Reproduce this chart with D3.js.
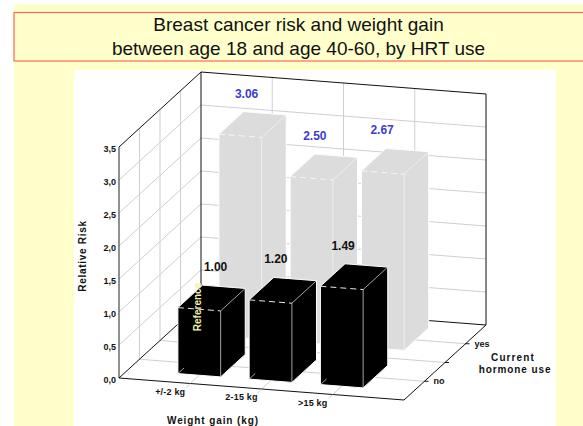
<!DOCTYPE html>
<html><head><meta charset="utf-8">
<style>html,body{margin:0;padding:0;background:#fff}svg{display:block}text{font-family:"Liberation Sans",Arial,sans-serif}</style>
<script src="https://d3js.org/d3.v7.min.js"></script></head><body>
<script>
const titleLines = ["Breast cancer risk and weight gain","between age 18 and age 40-60, by HRT use"];
const weightCats = ["+/-2 kg","2-15 kg",">15 kg"];
const hormoneCats = ["no","yes"];
const riskNo = [1.00,1.20,1.49];
const riskYes = [3.06,2.50,2.67];
const riskTicks = [0,0.5,1,1.5,2,2.5,3,3.5];

const W=583,H=426;
const svg=d3.select("body").append("svg").attr("width",W).attr("height",H);
svg.append("rect").attr("x",14).attr("y",4).attr("width",W-14).attr("height",H-4).attr("fill","#ffffcc");
svg.append("rect").attr("x",74).attr("y",70).attr("width",482).attr("height",H-70).attr("fill","#fff");
svg.append("rect").attr("x",14).attr("y",12.5).attr("width",W).attr("height",48.5).attr("fill","#ffffcc").attr("stroke","#ff6650").attr("stroke-width",1.2);
svg.selectAll("text.title").data(titleLines).join("text").attr("class","title")
  .attr("x",298.5).attr("y",(d,i)=>31+i*23.5).attr("text-anchor","middle").attr("font-size",19).attr("fill","#111").text(d=>d);

// oblique projection through linear scales
const xX=d3.scaleLinear([0,4],[0,285]), xY=d3.scaleLinear([0,4],[0,22]);
const zX=d3.scaleLinear([0,4],[0,82]), zY=d3.scaleLinear([0,4],[0,-75]);
const vY=d3.scaleLinear([0,3.5],[0,-231]);
const P=(x,z,v)=>[119+xX(x)+zX(z),378+xY(x)+zY(z)+vY(v)];
const path=pts=>d3.line()(pts)+"Z";
const seg=(a,b,col,w,extra)=>{const l=svg.append("line").attr("x1",a[0]).attr("y1",a[1]).attr("x2",b[0]).attr("y2",b[1]).attr("stroke",col).attr("stroke-width",w);if(extra)l.attr("stroke-dasharray",extra);return l;};

const grid="#cfcfcf";
riskTicks.slice(1,-1).forEach(v=>{seg(P(0,4,v),P(4,4,v),grid,1);seg(P(0,0,v),P(0,4,v),grid,1);});
[1,2,3].forEach(i=>{
  seg(P(i,4,0),P(i,4,3.5),grid,1);
  seg(P(0,i,0),P(0,i,3.5),grid,1);
  seg(P(i,-0.0,0),P(i,4,0),grid,1);
  seg(P(0,i,0),P(4,i,0),grid,1);
});
// walls and floor frame
seg(P(0,0,0),P(0,0,3.5),"#555",1.3);
seg(P(0,0,3.5),P(0,4,3.5),"#111",1);
seg(P(0,4,3.5),P(4,4,3.5),"#111",1);
seg(P(0,4,0),P(0,4,3.5),"#111",1);
seg(P(4,4,0),P(4,4,3.5),"#111",1);
seg(P(0,4,0),P(4,4,0),"#111",1);
seg(P(0,0,0),P(0,4,0),"#111",1);
seg(P(0,0,0),P(4,0,0),"#111",1);
seg(P(4,0,0),P(4,4,0),"#111",1);

// bars
const halfX=0.3, depth=1.2;
function bar(xc,zc,v,fill,edge){
  const x0=xc-halfX,x1=xc+halfX,z0=zc-depth/2,z1=zc+depth/2;
  const g=svg.append("g");
  g.append("path").attr("d",path([P(x0,z0,0),P(x1,z0,0),P(x1,z1,0),P(x1,z1,v),P(x0,z1,v),P(x0,z0,v)]))
    .attr("fill",fill).attr("stroke","#fff").attr("stroke-width",1);
  const ln=(a,b,dash,w=0.7)=>{const l=g.append("line").attr("x1",a[0]).attr("y1",a[1]).attr("x2",b[0]).attr("y2",b[1]).attr("stroke",edge).attr("stroke-width",w);if(dash)l.attr("stroke-dasharray",dash);};
  ln(P(x1,z0,0),P(x1,z0,v));
  ln(P(x1,z0,v),P(x1,z1,v));
  ln(P(x0,z0,v),P(x1,z0,v),"6 4",1);
  ln(P(x0,z0,0),P(x0,z0+0.3,0));
  ln(P(x0,z0,v),P(x0,z1,v),null,0.3);
  ln(P(x0,z1,v),P(x1,z1,v),null,0.3);
}
const nudgeYes=[-6,-9,-13], nudgeNo=[4,-7,-11];
riskYes.forEach((v,i)=>bar(i+1,3.04,v,"#dcdcdc","#f6f6f6"));
riskNo.forEach((v,i)=>bar(i+1,1.04,v,"#000","#e8e8e8"));
const valLabel=(d,i,z,col,n)=>{const p=P(i+1,z,d);
  svg.append("text").attr("x",p[0]+n[i]).attr("y",p[1]-27).attr("text-anchor","middle")
   .attr("font-size",12).attr("font-weight","bold").attr("fill",col).text(d.toFixed(2));};
riskYes.forEach((d,i)=>valLabel(d,i,3.04,"#3c3cd2",nudgeYes));
riskNo.forEach((d,i)=>valLabel(d,i,1.04,"#111",nudgeNo));
svg.append("text").attr("transform","translate(201,307) rotate(-90)").attr("text-anchor","middle")
  .attr("font-size",10).attr("font-weight","bold").attr("fill","#f2f2a8").text("Reference");

// axis labels
const fmt=d=>d.toFixed(1).replace(".",",");
riskTicks.forEach(v=>{const p=P(0,0,v);
  svg.append("text").attr("x",p[0]-3).attr("y",p[1]+5).attr("text-anchor","end")
    .attr("font-size",9).attr("font-weight","bold").attr("fill","#111").text(fmt(v));});
weightCats.forEach((c,i)=>{const p=P(i+1,0,0);
  seg(p,[p[0]-4,p[1]+4],grid,1);
  svg.append("text").attr("x",p[0]-20).attr("y",p[1]+11).attr("text-anchor","middle")
    .attr("font-size",9).attr("font-weight","bold").attr("letter-spacing",0.2).attr("fill","#111").text(c);});
[1,2,3].forEach(z=>{const p=P(4,z,0);seg(p,[p[0]+4,p[1]],"#111",1);});
hormoneCats.forEach((c,i)=>{const p=P(4,1+i*2,0);
  svg.append("text").attr("x",p[0]+9).attr("y",p[1]+3).attr("font-size",9).attr("font-weight","bold").attr("fill","#111").text(c);});
const axisTitle=(t,x,y,rot,ls)=>svg.append("text").attr("transform",`translate(${x},${y}) rotate(${rot})`)
  .attr("text-anchor","middle").attr("font-size",10).attr("font-weight","bold").attr("letter-spacing",ls).attr("fill","#111").text(t);
axisTitle("Weight gain (kg)",213,424,0,0.9);
axisTitle("Relative Risk",86,256,-90,0.7);
axisTitle("Current",513,361,0,1.1);
axisTitle("hormone use",515,373,0,0.9);
</script></body></html>
